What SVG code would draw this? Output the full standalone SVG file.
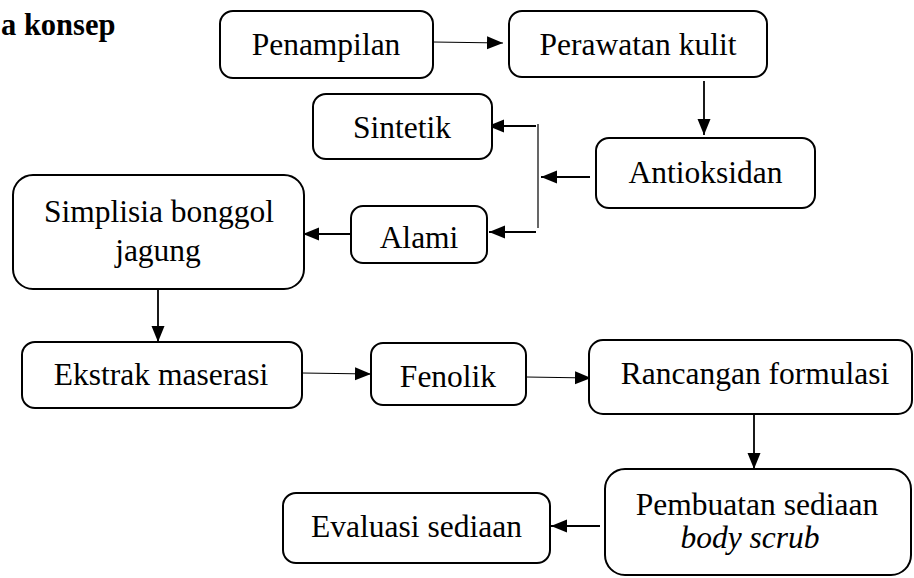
<svg xmlns="http://www.w3.org/2000/svg" width="914" height="578" viewBox="0 0 914 578">
<style>
.box{fill:#fff;stroke:#000;stroke-width:2}
.t{font-family:'Liberation Serif','Times New Roman',Times,'DejaVu Serif',serif;font-size:31.5px;fill:#000;text-anchor:middle}
.i{font-style:italic}
.title{font-family:'Liberation Serif','Times New Roman',Times,'DejaVu Serif',serif;font-size:30.5px;font-weight:bold;fill:#000}
.c{fill:none;stroke:#000;stroke-width:1.8}
.c1{fill:none;stroke:#000;stroke-width:1.2}
</style>
<defs>
<marker id="ah" markerUnits="userSpaceOnUse" markerWidth="16" markerHeight="14" refX="16" refY="7" orient="auto">
<path d="M0,0.5 L16,7 L0,13.5 z" fill="#000"/>
</marker>
</defs>
<text class="title" x="1" y="35">a konsep</text>
<g id="connectors">
<line class="c1" x1="433" y1="42" x2="503" y2="43" marker-end="url(#ah)"/>
<line class="c" x1="704" y1="81" x2="704" y2="135" marker-end="url(#ah)"/>
<line class="c" x1="590" y1="177" x2="541" y2="177" marker-end="url(#ah)"/>
<line class="c1" x1="538" y1="124" x2="538" y2="228"/>
<line class="c" x1="536" y1="126" x2="488" y2="126" marker-end="url(#ah)"/>
<line class="c" x1="536" y1="232" x2="489" y2="232" marker-end="url(#ah)"/>
<line class="c" x1="351" y1="234" x2="303" y2="234" marker-end="url(#ah)"/>
<line class="c" x1="158" y1="289" x2="158" y2="342" marker-end="url(#ah)"/>
<line class="c1" x1="302" y1="373" x2="371" y2="374" marker-end="url(#ah)"/>
<line class="c1" x1="526" y1="377" x2="591" y2="378" marker-end="url(#ah)"/>
<line class="c" x1="754" y1="414" x2="754" y2="469" marker-end="url(#ah)"/>
<line class="c" x1="600" y1="526" x2="551" y2="526" marker-end="url(#ah)"/>
</g>
<g id="penampilan"><rect class="box" x="220" y="11" width="213" height="67" rx="13"/><text class="t" x="326" y="55">Penampilan</text></g>
<g id="perawatan"><rect class="box" x="509" y="11" width="258" height="66" rx="13"/><text class="t" x="638" y="55">Perawatan kulit</text></g>
<g id="sintetik"><rect class="box" x="313" y="94" width="179" height="65" rx="13"/><text class="t" x="402" y="138">Sintetik</text></g>
<g id="antioksidan"><rect class="box" x="596" y="138" width="219" height="70" rx="13"/><text class="t" x="705.5" y="183">Antioksidan</text></g>
<g id="alami"><rect class="box" x="351" y="206" width="136" height="57" rx="12"/><text class="t" x="419" y="248">Alami</text></g>
<g id="simplisia"><rect class="box" x="13" y="175" width="291" height="114" rx="20"/><text class="t" x="159" y="222">Simplisia bonggol</text><text class="t" x="158" y="261">jagung</text></g>
<g id="ekstrak"><rect class="box" x="22" y="342" width="280" height="66" rx="13"/><text class="t" x="161" y="385">Ekstrak maserasi</text></g>
<g id="fenolik"><rect class="box" x="371" y="343" width="155" height="62" rx="12"/><text class="t" x="448" y="387">Fenolik</text></g>
<g id="rancangan"><rect class="box" x="589" y="340" width="323" height="74" rx="14"/><text class="t" x="755" y="384">Rancangan formulasi</text></g>
<g id="pembuatan"><rect class="box" x="605" y="469" width="306" height="106" rx="20"/><text class="t" x="757" y="515">Pembuatan sediaan</text><text class="t i" x="750" y="548">body scrub</text></g>
<g id="evaluasi"><rect class="box" x="283" y="493" width="267" height="70" rx="13"/><text class="t" x="416.5" y="537">Evaluasi sediaan</text></g>
</svg>
